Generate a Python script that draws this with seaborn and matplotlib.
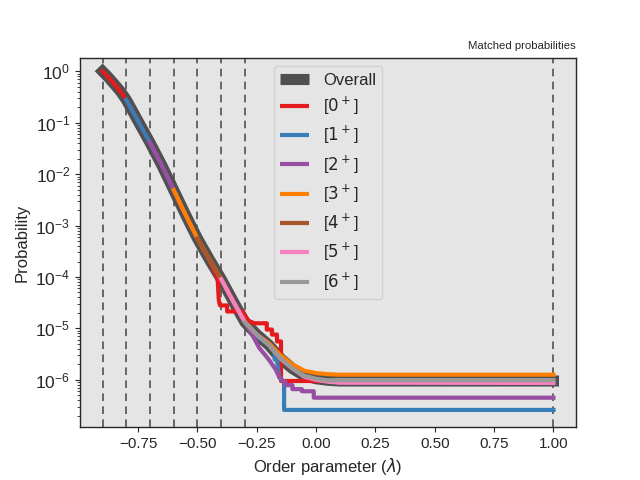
import matplotlib
matplotlib.use("Agg")
import matplotlib.pyplot as plt
import seaborn as sns
import pandas as pd

# order parameter grid and overall matched probability
lam = [-0.90, -0.875, -0.85, -0.825, -0.80, -0.775, -0.75, -0.70, -0.65,
       -0.60, -0.55, -0.50, -0.45, -0.40, -0.35, -0.30, -0.25, -0.20, -0.15,
       -0.10, -0.05, 0.00, 0.05, 0.10, 0.15, 1.00]
overall = [1.0, 7.6e-1, 5.6e-1, 4.1e-1, 2.8e-1, 1.74e-1, 1.07e-1, 4.1e-2,
           1.48e-2, 4.9e-3, 1.62e-3, 5.6e-4, 2.2e-4, 9.1e-5, 3.4e-5, 1.32e-5,
           7.6e-6, 4.8e-6, 2.6e-6, 1.66e-6, 1.2e-6, 1.05e-6, 9.8e-7, 9.5e-7,
           9.5e-7, 9.5e-7]

states = ["[$0^+$]", "[$1^+$]", "[$2^+$]", "[$3^+$]", "[$4^+$]", "[$5^+$]", "[$6^+$]"]
state_start = [-0.9, -0.8, -0.7, -0.6, -0.5, -0.4, -0.3]
windows = [-0.9, -0.8, -0.7, -0.6, -0.5, -0.4, -0.3, 1.0]

# where each state leaves the overall curve
tail_lam = [
    [-0.43, -0.415, -0.41, -0.405, -0.375, -0.375, -0.31, -0.30, -0.285,
     -0.26, -0.208, -0.208, -0.186, -0.186, -0.165, -0.165, -0.148, -0.148,
     -0.11, -0.10, 1.00],
    [-0.25, -0.22, -0.20, -0.175, -0.175, -0.165, -0.155, -0.14, -0.135,
     -0.135, 1.00],
    [-0.26, -0.24, -0.20, -0.17, -0.155, -0.14, -0.13, -0.13, -0.10, -0.10,
     -0.06, -0.06, -0.01, -0.01, 1.00],
    [-0.20, -0.15, -0.10, -0.05, 0.00, 0.05, 0.10, 1.00],
    [1.00],
    [-0.05, 0.00, 0.05, 0.10, 1.00],
    [0.10, 1.00],
]
tail_prob = [
    [1.32e-4, 9.1e-5, 3.5e-5, 2.8e-5, 2.8e-5, 2.14e-5, 2.14e-5, 1.78e-5,
     1.41e-5, 1.26e-5, 1.26e-5, 9.5e-6, 9.5e-6, 7.6e-6, 7.6e-6, 5.6e-6,
     5.6e-6, 9.5e-7, 9.5e-7, 9.5e-7, 9.5e-7],
    [7.1e-6, 5.6e-6, 4.8e-6, 4.0e-6, 2.5e-6, 2.4e-6, 1.12e-6, 9.5e-7, 8.9e-7,
     2.6e-7, 2.6e-7],
    [6.3e-6, 4.2e-6, 2.5e-6, 1.58e-6, 1.12e-6, 9.3e-7, 9.3e-7, 7.9e-7, 7.9e-7,
     6.6e-7, 6.6e-7, 6.0e-7, 6.0e-7, 4.5e-7, 4.5e-7],
    [5.2e-6, 3.0e-6, 2.0e-6, 1.51e-6, 1.35e-6, 1.29e-6, 1.26e-6, 1.26e-6],
    [9.5e-7],
    [1.15e-6, 1.0e-6, 9.2e-7, 8.8e-7, 8.7e-7],
    [9.9e-7, 9.9e-7],
]

colors = ["#E41A1C", "#377EB8", "#984EA3", "#FF7F00", "#A65628", "#F781BF", "#999999"]

sns.set_theme(style="ticks", rc={
    "axes.facecolor": "#E5E5E5",
    "xtick.major.size": 3.5, "ytick.major.size": 3.5,
    "xtick.minor.size": 2, "ytick.minor.size": 2,
    "xtick.major.width": 0.8, "ytick.major.width": 0.8,
    "xtick.minor.width": 0.6, "ytick.minor.width": 0.6,
    "axes.linewidth": 1.0,
})
plt.rcParams["font.family"] = ["Liberation Sans", "DejaVu Sans"]

fig, ax = plt.subplots(figsize=(6.4, 4.8), dpi=100)

for w in windows:
    ax.axvline(w, color="#444444", lw=1.1, ls=(0, (5, 3.5)), zorder=1)

df = pd.DataFrame({"lam": lam, "p": overall})
sns.lineplot(data=df, x="lam", y="p", ax=ax, color="#505050", lw=8,
             label="Overall", sort=False, estimator=None, zorder=2,
             solid_capstyle="projecting")

for i, name in enumerate(states):
    xs = [l for l in lam if state_start[i] <= l < tail_lam[i][0]]
    ys = [p for l, p in zip(lam, overall) if state_start[i] <= l < tail_lam[i][0]]
    xs = xs + tail_lam[i]
    ys = ys + tail_prob[i]
    sns.lineplot(x=xs, y=ys, ax=ax, color=colors[i], lw=3, label=name,
                 sort=False, estimator=None, zorder=3,
                 solid_capstyle="projecting")

ax.set_yscale("log")
ax.set_ylim(1.2e-7, 1.85)
ax.set_xlabel(r"Order parameter ($\lambda$)", fontsize=12)
ax.set_ylabel("Probability", fontsize=12)
ax.tick_params(axis="x", labelsize=11)
ax.tick_params(axis="y", labelsize=12.5)
ax.set_title("Matched probabilities", loc="right", fontsize=8.2)
leg = ax.legend(loc="upper center", fontsize=12, handlelength=1.75,
                labelspacing=0.42)
for h in leg.get_lines():
    h.set_solid_capstyle("butt")

plt.savefig("out.png", dpi=100)
